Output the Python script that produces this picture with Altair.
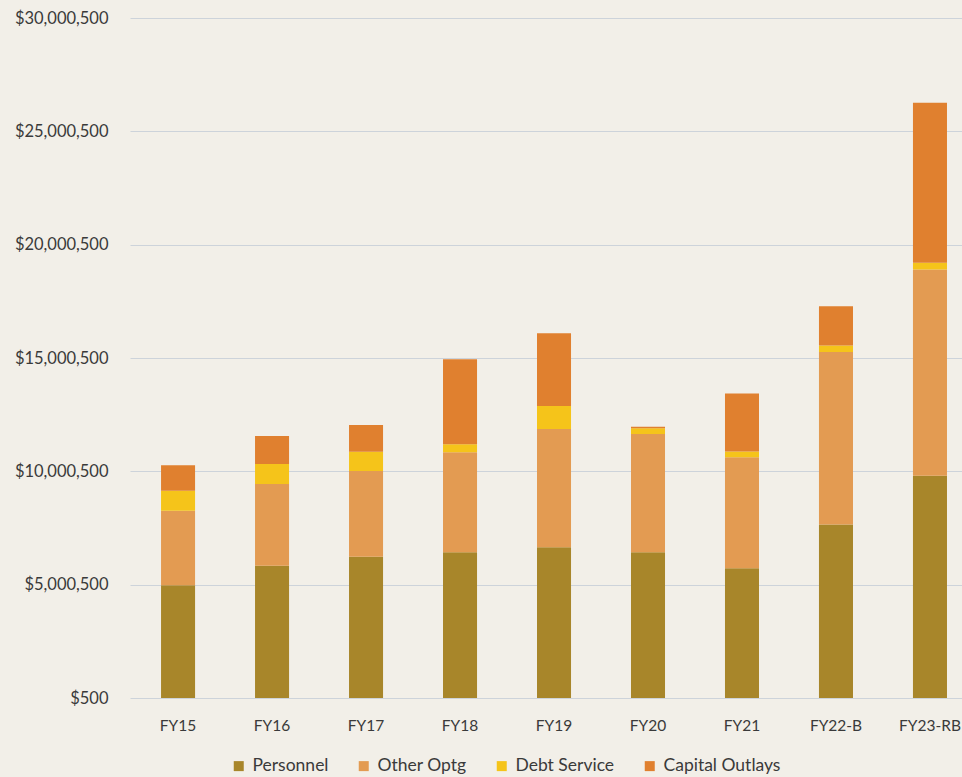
import altair as alt
import pandas as pd

# Budget by fiscal year, in dollars
years = ["FY15", "FY16", "FY17", "FY18", "FY19", "FY20", "FY21", "FY22-B", "FY23-RB"]
categories = ["Personnel", "Other Optg", "Debt Service", "Capital Outlays"]
colors = ["#A8862A", "#E39B52", "#F5C41A", "#E0802F"]

personnel = [4980000, 5840000, 6230000, 6430000, 6650000, 6430000, 5720000, 7660000, 9810000]
other_optg = [3280000, 3600000, 3780000, 4410000, 5220000, 5220000, 4900000, 7610000, 9100000]
debt_service = [880000, 880000, 850000, 350000, 1010000, 250000, 250000, 280000, 290000]
capital_outlays = [1130000, 1240000, 1190000, 3760000, 3210000, 70000, 2560000, 1730000, 7060000]

tick_values = [500, 5000500, 10000500, 15000500, 20000500, 25000500, 30000500]

series = [personnel, other_optg, debt_service, capital_outlays]
rows = []
for ci, (cat, vals) in enumerate(zip(categories, series)):
    for year, v in zip(years, vals):
        rows.append({"Year": year, "Category": cat, "Amount": v, "idx": ci})
df = pd.DataFrame(rows)

font = "Lato"
text_color = "#3A3A3A"

chart = (
    alt.Chart(df)
    .mark_bar(clip=True)
    .encode(
        x=alt.X(
            "Year:N",
            sort=years,
            title=None,
            scale=alt.Scale(paddingInner=0.638, paddingOuter=0.245, align=0.674),
            axis=alt.Axis(
                labelAngle=0,
                domain=False,
                ticks=False,
                labelPadding=20,
                labelFontSize=15.5,
                labelFont=font,
                labelColor=text_color,
            ),
        ),
        y=alt.Y(
            "Amount:Q",
            stack="zero",
            title=None,
            scale=alt.Scale(domain=[500, 30000500], nice=False, zero=False),
            axis=alt.Axis(
                values=tick_values,
                format="$,.0f",
                domain=False,
                ticks=False,
                labelPadding=22,
                labelFontSize=16.5,
                labelFont=font,
                labelColor=text_color,
                gridColor="#CDD3DA",
                gridWidth=1,
            ),
        ),
        color=alt.Color(
            "Category:N",
            sort=categories,
            scale=alt.Scale(domain=categories, range=colors),
            legend=alt.Legend(
                title=None,
                orient="none",
                direction="horizontal",
                legendX=100,
                legendY=739,
                symbolType="square",
                symbolSize=100,
                symbolStrokeWidth=0,
                labelFontSize=17.5,
                labelFont=font,
                labelColor=text_color,
                columnPadding=26,
                labelOffset=5,
            ),
        ),
        order=alt.Order("idx:Q", sort="ascending"),
    )
    .properties(
        width=832,
        height=680,
        background="#F2EFE8",
        padding={"left": 130, "top": 18, "right": 0, "bottom": 79},
        autosize=alt.AutoSizeParams(type="none"),
    )
    .configure_view(stroke=None)
)

chart.save("out.html", embed_options={"renderer": "svg", "actions": False})
